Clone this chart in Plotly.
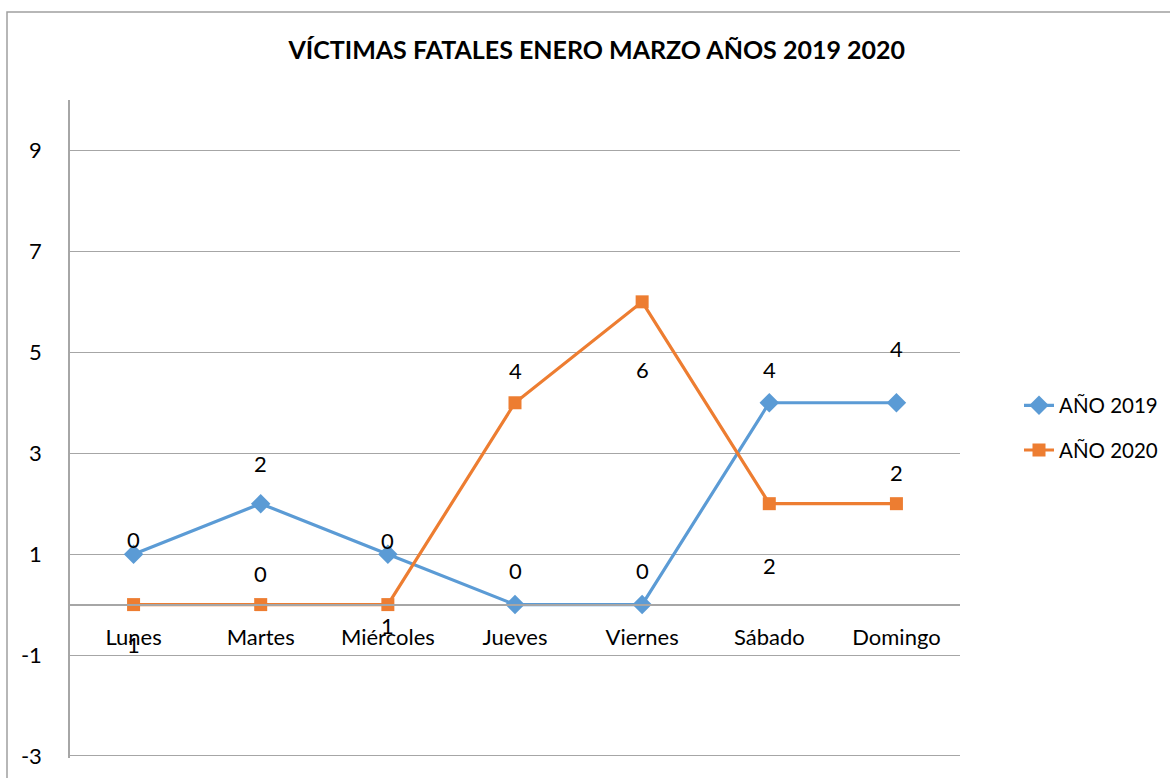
import plotly.graph_objects as go

dias = ["Lunes", "Martes", "Miércoles", "Jueves", "Viernes", "Sábado", "Domingo"]
valores_2019 = [1, 2, 1, 0, 0, 4, 4]
valores_2020 = [0, 0, 0, 4, 6, 2, 2]
etiquetas_2019 = ["0", "2", "0", "0", "0", "4", "4"]
etiquetas_2020 = ["1", "0", "1", "4", "6", "2", "2"]
y_ticks = [-3, -1, 1, 3, 5, 7, 9]
y_ticktext = ["-3", "-1", "1", "3", "5", "7", "9"]

# pixel offsets of the data labels (style)
off_2019 = [15, 40, 14, 34, 34, 33, 54]
off_2020 = [-40, 31, -21, 32, -68, -62, 31]

FONT = "Lato"
BLUE = "#5B9BD5"
ORANGE = "#ED7D31"
GRID = "#A6A6A6"

fig = go.Figure()
fig.add_trace(go.Scatter(
    x=dias, y=valores_2019, name="AÑO 2019", mode="lines+markers",
    line=dict(color=BLUE, width=3.2), marker=dict(symbol="diamond", size=15, color=BLUE),
    legendgroup="a"))
fig.add_trace(go.Scatter(
    x=dias, y=valores_2020, name="AÑO 2020", mode="lines+markers",
    line=dict(color=ORANGE, width=3.2), marker=dict(symbol="square", size=13, color=ORANGE),
    legendgroup="b"))

ann = []
for xs, ys, labs, offs in [(dias, valores_2019, etiquetas_2019, off_2019),
                           (dias, valores_2020, etiquetas_2020, off_2020)]:
    for xv, yv, t, o in zip(xs, ys, labs, offs):
        ann.append(dict(x=xv, y=yv, xref="x", yref="y", text=t, showarrow=False,
                        yshift=o, font=dict(family=FONT, size=22, color="black")))

fig.update_layout(
    width=1170, height=778,
    margin=dict(l=70, r=210, t=100, b=20, autoexpand=False),
    paper_bgcolor="white", plot_bgcolor="white",
    font=dict(family=FONT, size=22, color="black"),
    title=dict(text="<b>VÍCTIMAS FATALES ENERO MARZO AÑOS 2019 2020</b>",
               x=0.51, xref="container", xanchor="center",
               y=1 - 50 / 778, yref="container", yanchor="middle",
               font=dict(family=FONT, size=25, color="black")),
    xaxis=dict(type="category", range=[-0.5, 6.5], anchor="free", position=3.04 / 13.04,
               showline=True, linecolor=GRID, linewidth=1.5, showgrid=False, automargin=False,
               ticks="", ticklabelstandoff=13, tickfont=dict(size=22), zeroline=False),
    yaxis=dict(range=[-3.04, 10], tickmode="array", tickvals=y_ticks, ticktext=y_ticktext,
               showgrid=True, gridcolor=GRID, gridwidth=1.2, automargin=False,
               showline=True, linecolor=GRID, linewidth=1.5, zeroline=False,
               ticks="", ticklabelstandoff=22, tickfont=dict(size=22)),
    legend=dict(xref="container", yref="container", x=1019 / 1170, xanchor="left",
                y=1 - 428 / 778, yanchor="middle",
                font=dict(size=20.5), traceorder="grouped", tracegroupgap=15,
                bgcolor="rgba(0,0,0,0)"),
    annotations=ann,
    shapes=[dict(type="rect", xref="paper", yref="paper",
                 x0=(7 - 70) / 890, x1=1.3, y0=-0.2, y1=(758 - 12) / 658,
                 line=dict(color="#A0A0A0", width=1.5), layer="below")],
)

fig.write_html("out.html", config={"displayModeBar": False},
               post_script="document.body.style.margin='0';")
